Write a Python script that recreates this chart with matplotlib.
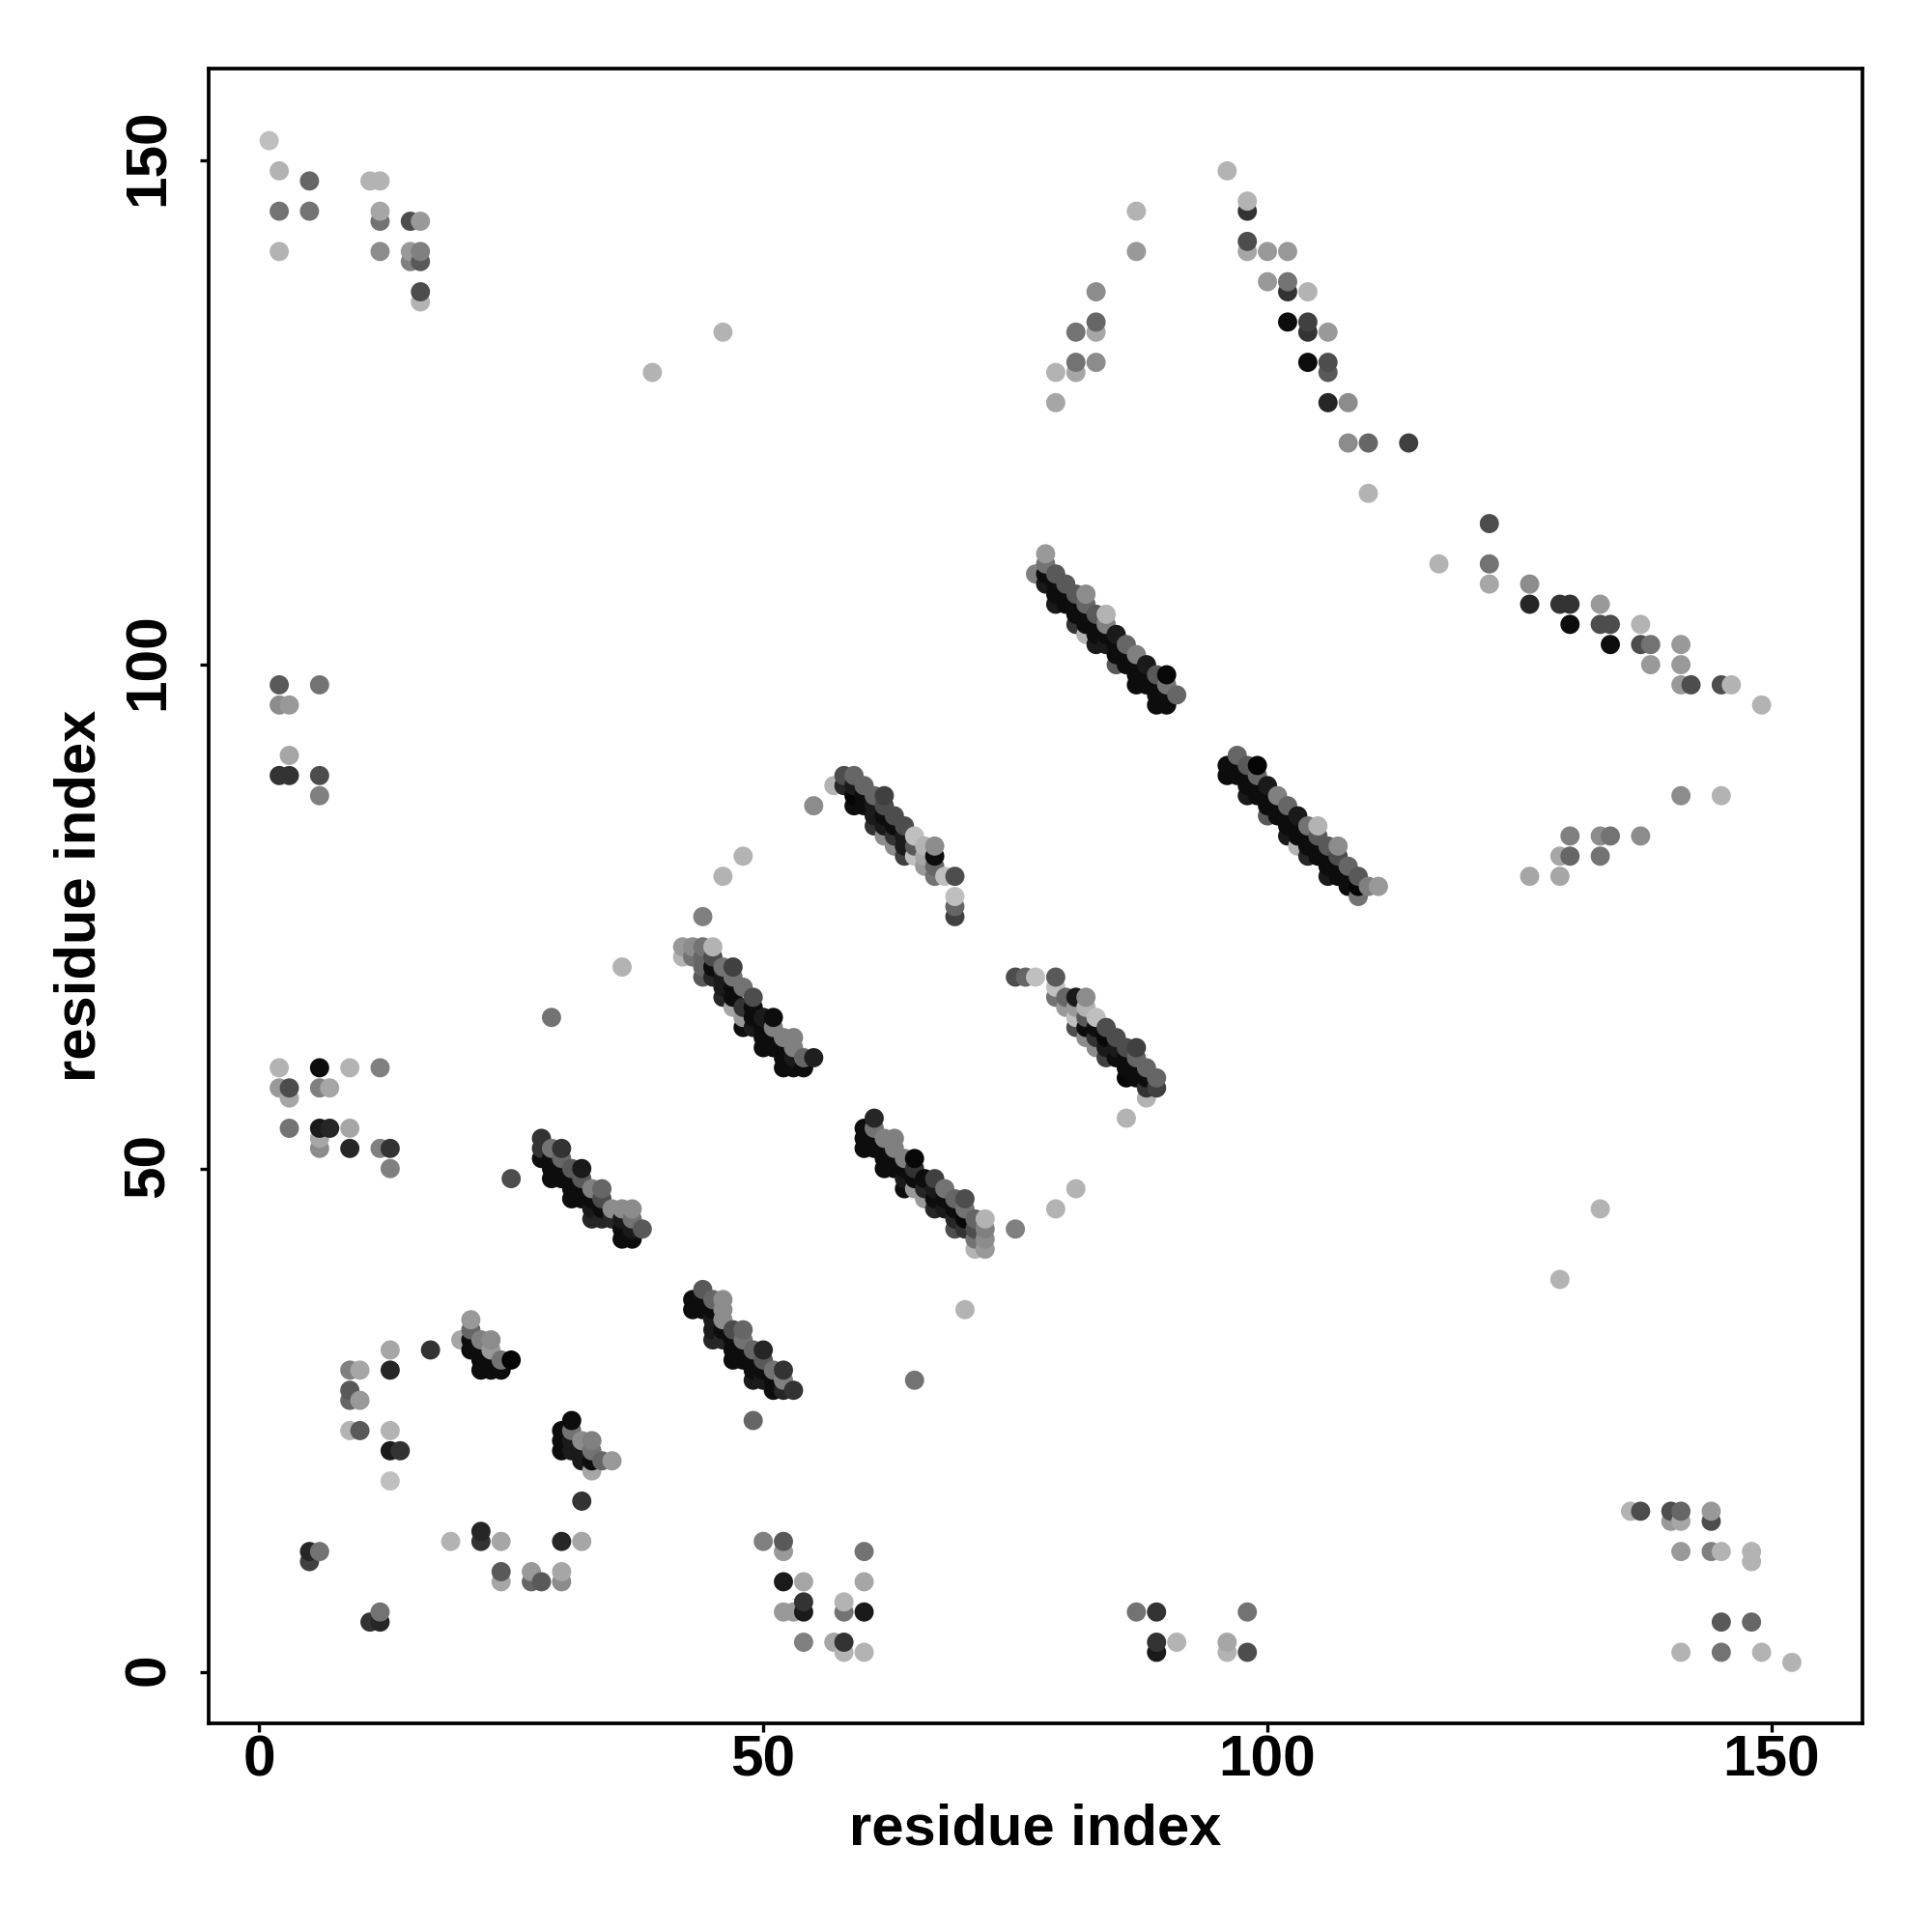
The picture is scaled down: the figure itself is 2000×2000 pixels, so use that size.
import pandas as pd
import matplotlib
matplotlib.use('Agg')
import matplotlib.pyplot as plt
from matplotlib.transforms import ScaledTranslation

plt.rcParams['font.family'] = ['Liberation Sans', 'DejaVu Sans']
plt.rcParams['font.weight'] = 'bold'

# contacts as (residue i, residue j, grey level)
top_left = [(1,152,.75),(2,149,.7),(2,145,.45),(2,141,.7),(5,148,.4),(5,145,.45),(11,148,.7),(12,148,.7),
            (12,145,.65),(12,144,.45),(12,141,.55),(15,144,.3),(16,144,.6),(15,141,.6),(16,141,.5),
            (15,140,.5),(16,140,.35),(16,137,.3),(16,136,.7),(39,129,.7),(46,133,.7)]

top_right = [(79,126,.65),(79,129,.7),(81,129,.65),(81,130,.45),(81,133,.45),(83,130,.55),(83,133,.65),
             (83,134,.4),(83,137,.55),(87,141,.6),(87,145,.7),(96,149,.7),(98,146,.7),(98,145,.2),
             (98,142,.3),(98,141,.65),(100,141,.6),(102,141,.6),(100,138,.6),(102,138,.45),(102,137,.2),
             (104,137,.7),(102,134,.05),(104,134,.25),(104,133,.2),(106,133,.6),(104,130,.05),(106,130,.3),
             (106,129,.35),(106,126,.15),(108,126,.55),(108,122,.55),(110,122,.4),(114,122,.25),(110,117,.7),
             (117,110,.7),(122,114,.3),(122,110,.45),(122,108,.65),(126,106,.15),(126,108,.55),(129,106,.2),
             (130,106,.2),(130,104,.05),(133,106,.6),(133,104,.3),(134,104,.3),(134,102,.05),(137,104,.7),
             (137,102,.3),(138,102,.45),(138,100,.6),(141,102,.6),(141,100,.6),(141,98,.6),(142,98,.3),
             (145,98,.3),(146,98,.7),(149,96,.7)]

right_mid = [(141,87,.55),(145,87,.7),(137,83,.55),(133,83,.55),(134,83,.45),(130,83,.5),(129,81,.65),
             (130,81,.4),(133,81,.45),(126,79,.65),(129,79,.65),(133,46,.7),(129,39,.7)]

bottom_right = [(136,16,.7),(137,16,.3),(140,16,.3),(141,16,.4),(140,15,.6),(141,15,.65),(144,16,.6),
                (144,15,.3),(141,12,.6),(144,12,.5),(145,12,.7),(148,12,.7),(148,11,.7),(145,5,.35),
                (148,5,.4),(141,2,.7),(145,2,.45),(149,2,.7),(152,1,.7)]

bottom_mid = [(87,6,.45),(89,6,.2),(89,3,.2),(89,2,.1),(91,3,.7),(96,3,.65),(96,2,.7),(98,6,.45),(98,2,.3),
              (50,13,.5),(52,13,.35),(52,12,.6),(52,9,.1),(54,9,.65),(52,6,.6),(53,6,.6),(54,7,.2),(54,6,.1),
              (54,3,.5),(57,3,.65),(58,3,.2),(58,2,.7),(58,7,.7),(58,6,.45),(60,6,.1),(60,9,.65),(60,12,.45),
              (60,2,.7)]

bottom_left = [(5,12,.15),(6,12,.45),(5,11,.25),(11,5,.2),(12,5,.15),(12,6,.45),(19,13,.7),(22,14,.15),
               (22,13,.2),(24,13,.65),(24,10,.35),(24,9,.65),(27,10,.6),(27,9,.4),(28,9,.35),(30,13,.15),
               (30,10,.65),(30,9,.55),(32,13,.65),(32,17,.2),(9,30,.5),(10,30,.65),(9,28,.35),(9,27,.4),
               (10,27,.6),(9,24,.7),(10,24,.35),(13,32,.65),(13,30,.15),(13,24,.7),(13,22,.1),(14,22,.2),
               (13,19,.75),(17,32,.2)]

small_strands = [(21,35,.6),(21,34,.4),(20,33,.65),(21,33,.05),(21,32,.05),(22,33,.5),(23,33,.55),(22,32,.05),
                 (22,31,.05),(22,30,.05),(23,32,.6),(23,31,.05),(23,30,.05),(24,30,.05),(24,31,.45),(25,31,.02),
                 (31,25,.05),(30,24,.05),(31,24,.45),(30,23,.05),(30,22,.05),(32,23,.55),(33,23,.5),(33,22,.45),
                 (31,22,.1),(31,23,.1),(32,21,.1),(32,22,.1),(33,21,.05),(33,20,.65),(34,21,.4),(35,21,.6)]

left_mid = [(2,98,.35),(6,98,.45),(2,96,.55),(3,96,.6),(3,91,.65),(2,89,.2),(3,89,.2),(6,89,.3),(6,87,.5),
            (2,60,.7),(2,58,.6),(3,58,.3),(3,57,.65),(3,54,.45),(6,60,.05),(6,58,.5),(7,58,.65),(6,54,.1),
            (7,54,.15),(6,53,.65),(6,52,.55),(9,60,.7),(9,54,.65),(9,52,.15),(12,60,.5),(12,52,.5),(13,52,.2),
            (13,50,.5)]

lone_points = [(25,49,.3),(29,65,.45),(36,70,.7),(44,75,.5),(46,79,.7),(48,81,.7),(55,86,.55),(49,25,.4),
               (65,29,.45),(70,36,.7),(75,44,.5),(79,46,.7),(81,48,.7),(86,55,.7)]

strand_a = [(28,53,.2),(28,52,.2),(28,51,.05),(29,52,.45),(30,52,.2),(29,51,.05),(29,50,.05),(29,49,.05),
            (30,49,.05),(30,51,.4),(30,50,.05),(31,50,.35),(32,50,.1),(32,49,.35),(31,49,.05),(31,48,.05),
            (31,47,.05),(32,47,.05),(32,48,.05),(33,48,.5),(34,48,.4),(33,47,.05),(34,47,.3),(33,45,.15),
            (34,45,.15),(33,46,.1),(34,46,.05),(35,45,.15),(35,46,.55),(36,46,.55),(37,46,.55),(37,45,.45),
            (36,45,.1),(36,44,.05),(36,43,.05),(37,43,.05),(38,44,.35),(37,44,.1)]

strand_b = [(44,38,.35),(43,37,.05),(43,36,.05),(44,37,.05),(44,36,.05),(45,37,.4),(46,37,.55),(46,36,.55),
            (46,35,.55),(45,36,.05),(45,35,.1),(45,34,.1),(45,33,.15),(46,33,.15),(46,34,.05),(47,34,.3),
            (48,34,.4),(48,33,.45),(47,33,.05),(47,32,.05),(47,31,.05),(48,31,.05),(48,32,.05),(49,32,.4),
            (50,32,.15),(50,31,.35),(49,31,.05),(49,30,.05),(49,29,.1),(50,29,.1),(50,30,.05),(51,30,.45),
            (52,30,.2),(52,29,.5),(51,29,.05),(51,28,.05),(52,28,.15),(53,28,.2)]

strand_c = [(42,72,.6),(42,71,.7),(43,72,.55),(43,71,.45),(44,72,.45),(44,71,.4),(44,70,.4),(44,69,.35),
            (45,72,.7),(45,71,.3),(45,70,.05),(45,69,.15),(46,70,.45),(47,70,.25),(47,69,.45),(46,69,.1),
            (46,68,.1),(46,67,.15),(47,67,.05),(47,68,.05),(48,68,.45),(49,67,.3),(47,66,.65),(48,66,.2),
            (48,65,.6),(48,64,.05),(49,64,.1),(49,65,.05),(49,66,.05),(50,65,.1),(51,65,.05),(51,64,.5),
            (50,64,.05),(50,62,.05),(50,63,.05),(51,62,.05),(51,63,.05),(52,63,.5),(53,63,.5),(53,62,.5),
            (52,62,.05),(52,60,.05),(52,61,.05),(53,60,.05),(54,60,.05),(53,61,.1),(54,61,.4),(55,61,.12)]

strand_d = [(57,88,.7),(58,89,.3),(58,88,.15),(59,89,.4),(59,88,.1),(59,87,.02),(59,86,.05),(60,88,.4),
            (60,87,.05),(60,86,.05),(61,87,.4),(61,86,.1),(61,85,.1),(61,84,.2),(62,87,.25),(62,86,.3),
            (62,85,.05),(62,84,.1),(62,83,.55),(63,85,.3),(63,84,.05),(63,83,.2),(63,82,.55),(64,84,.3),
            (64,83,.1),(64,82,.1),(64,81,.25),(65,83,.75),(65,82,.35),(65,81,.75),(66,82,.7),(66,81,.65),
            (66,80,.6),(67,82,.55),(67,81,.05),(67,80,.4),(67,79,.45),(68,79,.75),(69,79,.3),(69,77,.75),
            (69,76,.4),(69,75,.25)]

strand_e = [(61,55,.15),(60,54,.05),(60,53,.05),(60,52,.05),(61,54,.45),(62,53,.5),(63,53,.5),(63,52,.5),
            (61,53,.05),(61,52,.05),(62,52,.05),(62,51,.05),(62,50,.05),(63,50,.05),(63,51,.05),(64,51,.5),
            (65,51,.03),(65,50,.2),(64,50,.05),(64,49,.1),(64,48,.05),(65,49,.05),(65,48,.6),(66,47,.6),
            (66,48,.15),(66,49,.05),(67,49,.25),(68,48,.45),(67,48,.1),(67,47,.05),(67,46,.15),(68,46,.1),
            (68,47,.05),(69,47,.4),(70,47,.3),(70,46,.45),(69,46,.05),(69,45,.15),(69,44,.3),(70,44,.2),
            (70,45,.03),(71,45,.4),(72,45,.7),(72,44,.5),(71,44,.3),(71,43,.45),(71,42,.7),(72,43,.55),
            (72,42,.6)]

strand_f = [(75,69,.3),(76,69,.4),(77,69,.75),(79,69,.35),(79,68,.75),(79,67,.45),(80,67,.4),(81,67,.1),
            (82,67,.55),(80,66,.6),(81,66,.6),(82,66,.7),(81,65,.75),(82,65,.35),(83,65,.75),(81,64,.3),
            (82,64,.05),(83,64,.05),(84,64,.3),(82,63,.55),(83,63,.2),(84,63,.03),(85,63,.3),(83,62,.55),
            (84,62,.1),(84,61,.25),(85,61,.05),(85,62,.1),(86,62,.3),(87,62,.25),(87,61,.4),(86,61,.05),
            (86,60,.05),(86,59,.03),(87,59,.05),(87,60,.05),(88,60,.4),(89,59,.4),(88,59,.05),(88,58,.2),
            (89,58,.25),(88,57,.7)]

strand_g = [(78,111,.6),(77,109,.5),(78,110,.45),(78,109,.05),(78,108,.1),(79,109,.35),(80,108,.35),(79,108,.05),
            (79,107,.05),(79,106,.1),(80,106,.05),(80,107,.05),(81,107,.35),(82,107,.55),(82,106,.4),(81,106,.05),
            (81,105,.05),(81,104,.2),(82,104,.05),(82,105,.05),(83,105,.35),(84,105,.7),(84,104,.5),(83,104,.05),
            (83,103,.05),(83,102,.1),(84,102,.1),(84,103,.05),(82,103,.7),(85,103,.1),(86,102,.4),(87,101,.5),
            (85,102,.05),(85,101,.05),(85,100,.35),(86,100,.05),(86,101,.05),(88,100,.1),(87,100,.05),(87,99,.05),
            (87,98,.05),(88,98,.05),(88,99,.05),(89,99,.35),(90,99,.03),(90,98,.45),(91,97,.4),(89,98,.05),
            (89,97,.05),(89,96,.05),(90,96,.05),(90,97,.05)]

strand_h = [(97,91,.4),(96,90,.05),(96,89,.05),(97,90,.05),(97,89,.05),(98,90,.35),(99,90,.02),(99,89,.4),
            (98,89,.05),(98,88,.05),(98,87,.1),(99,87,.05),(99,88,.05),(100,88,.1),(101,87,.5),(102,86,.4),
            (103,85,.1),(100,87,.05),(100,86,.05),(100,85,.35),(101,85,.05),(101,86,.05),(102,85,.05),(102,84,.05),
            (102,83,.1),(103,83,.05),(103,84,.05),(104,84,.45),(105,84,.7),(105,83,.35),(104,83,.05),(104,82,.05),
            (104,81,.15),(103,82,.7),(105,82,.05),(105,81,.05),(106,82,.35),(107,82,.55),(107,81,.3),(106,81,.05),
            (106,80,.05),(106,79,.1),(107,79,.05),(107,80,.05),(108,80,.4),(109,79,.35),(108,79,.05),(108,78,.05),
            (109,78,.02),(110,78,.5),(111,78,.6),(109,77,.45)]

tick_values = [0, 50, 100, 150]

contacts = pd.DataFrame(
    top_left + top_right + right_mid + bottom_right + bottom_mid + bottom_left + small_strands + left_mid
    + lone_points + strand_a + strand_b + strand_c + strand_d + strand_e + strand_f + strand_g + strand_h,
    columns=['i', 'j', 'grey'])
# later residues sit on top of earlier ones
contacts = contacts.sort_values(['i', 'j'])

fig = plt.figure(figsize=(20, 20), dpi=100)
ax = fig.add_axes([216 / 2000, 1 - 1784 / 2000, 1712 / 2000, 1713 / 2000])
ax.scatter(contacts['i'], contacts['j'], s=205, c=contacts['grey'].astype(str).tolist(), linewidths=0)

ax.set_xlim(-5.0, 159.0)
ax.set_ylim(-5.05, 159.15)
ax.set_xticks(tick_values)
ax.set_yticks(tick_values)
ax.tick_params(axis='x', length=6.5, width=2.4, labelsize=43.5, pad=2)
ax.tick_params(axis='y', length=6.5, width=2.4, labelsize=43.5, pad=18)
# nudge the rotated labels up a little, they sit low otherwise
nudge = ScaledTranslation(0, 3.5 / 100, fig.dpi_scale_trans)
for label in ax.get_yticklabels():
    label.set_rotation(90)
    label.set_va('center')
    label.set_transform(label.get_transform() + nudge)
for spine in ax.spines.values():
    spine.set_linewidth(2.7)

ax.set_xlabel('residue index', fontsize=43, fontweight='bold', labelpad=11)
ax.set_ylabel('residue index', fontsize=43, fontweight='bold', labelpad=12)

fig.savefig('out.png', dpi=100)
plt.close(fig)
